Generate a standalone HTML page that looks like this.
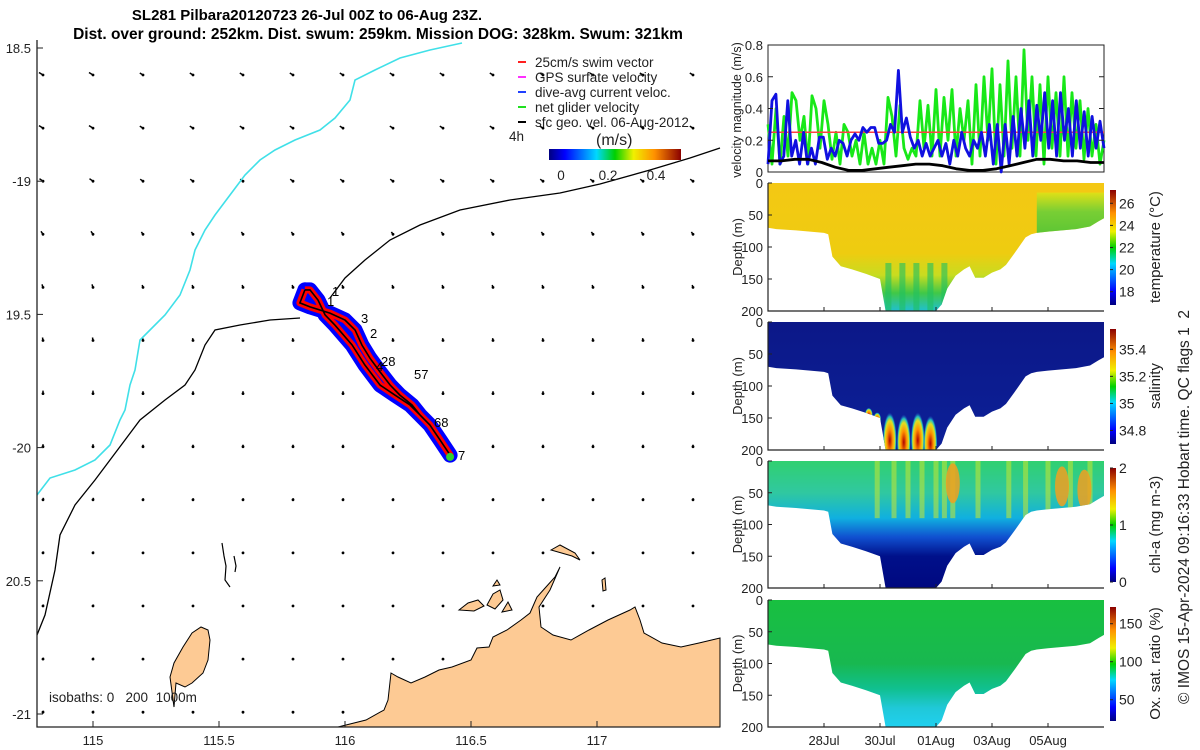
<!DOCTYPE html>
<html><head><meta charset="utf-8"><style>
html,body{margin:0;padding:0;background:#fff;width:1200px;height:750px;overflow:hidden}
svg{display:block;font-family:"Liberation Sans","DejaVu Sans",sans-serif}
.pre{white-space:pre}
</style></head><body>
<svg id="fig" width="1200" height="750" viewBox="0 0 1200 750" xmlns="http://www.w3.org/2000/svg">
<defs>
<linearGradient id="jet" x1="0" y1="1" x2="0" y2="0"><stop offset="0" stop-color="#00007f"/><stop offset="0.12" stop-color="#0000ff"/><stop offset="0.36" stop-color="#00d8ff"/><stop offset="0.5" stop-color="#00d000"/><stop offset="0.64" stop-color="#f0f000"/><stop offset="0.8" stop-color="#ff9000"/><stop offset="1" stop-color="#8a0000"/></linearGradient>
<linearGradient id="jetH" x1="0" y1="0" x2="1" y2="0"><stop offset="0" stop-color="#00007f"/><stop offset="0.12" stop-color="#0000ff"/><stop offset="0.36" stop-color="#00d8ff"/><stop offset="0.5" stop-color="#00d000"/><stop offset="0.64" stop-color="#f0f000"/><stop offset="0.8" stop-color="#ff9000"/><stop offset="1" stop-color="#8a0000"/></linearGradient>
<linearGradient id="gTemp" x1="0" y1="0" x2="0" y2="1"><stop offset="0" stop-color="#f4c814"/><stop offset="0.55" stop-color="#eecc10"/><stop offset="0.72" stop-color="#c8dc20"/><stop offset="0.86" stop-color="#40c848"/><stop offset="1" stop-color="#20c0d0"/></linearGradient>
<linearGradient id="gTempR" x1="0" y1="0" x2="0" y2="1"><stop offset="0" stop-color="#d8e818"/><stop offset="0.4" stop-color="#50d040"/><stop offset="1" stop-color="#20c040"/></linearGradient>
<linearGradient id="gSal" x1="0" y1="0" x2="0" y2="1"><stop offset="0" stop-color="#0c1888"/><stop offset="1" stop-color="#0c2098"/></linearGradient>
<linearGradient id="gChl" x1="0" y1="0" x2="0" y2="1"><stop offset="0" stop-color="#30d070"/><stop offset="0.25" stop-color="#30c8a0"/><stop offset="0.45" stop-color="#10b0e0"/><stop offset="0.6" stop-color="#1050d0"/><stop offset="0.75" stop-color="#00108a"/><stop offset="1" stop-color="#000880"/></linearGradient>
<linearGradient id="gOxy" x1="0" y1="0" x2="0" y2="1"><stop offset="0" stop-color="#18c040"/><stop offset="0.5" stop-color="#18b850"/><stop offset="0.7" stop-color="#10c090"/><stop offset="0.85" stop-color="#20c8d8"/><stop offset="1" stop-color="#20d0f0"/></linearGradient>
<radialGradient id="gHot"><stop offset="0" stop-color="#b00000"/><stop offset="0.4" stop-color="#ff9000"/><stop offset="0.7" stop-color="#e0e020"/><stop offset="0.85" stop-color="#20c0c0"/><stop offset="1" stop-color="#2040c0" stop-opacity="0"/></radialGradient>
</defs>
<g id="map"></g>
<g id="right"></g>
</svg>
<script>
// ---------------- data ----------------
const trackLon=[115.841,115.821,115.861,115.940,116.000,116.040,116.067,116.099,116.139,116.179,116.218,116.266,116.298,116.337,116.377,116.417,116.377,116.337,116.298,116.258,116.198,116.139,116.079,116.028,115.960,115.921,115.893,115.861,115.841];
const trackLat=[-19.408,-19.457,-19.472,-19.495,-19.521,-19.559,-19.615,-19.664,-19.716,-19.765,-19.803,-19.840,-19.878,-19.915,-19.971,-20.028,-19.971,-19.915,-19.878,-19.840,-19.803,-19.765,-19.690,-19.615,-19.540,-19.502,-19.446,-19.408,-19.408];
const lonTicks=[115,115.5,116,116.5,117];
const lonTickLabels=["115","115.5","116","116.5","117"];
const latTicks=[-18.5,-19,-19.5,-20,-20.5,-21];
const latTickLabels=["18.5","-19","19.5","-20","20.5","-21"];
const quiverU=[-4,-4,-3.5,-2,-1,-0.5,0,0,0.5,0.5,0.5,0.5,0.5];
const quiverV=[-2.5,-2.5,-2.5,-3,-3,-3,-3,-2.5,-2,-1.5,-1.5,-1.5,-1.5];

const netVel=[0.3,0.05,0.4,0.05,0.35,0.1,0.5,0.45,0.2,0.35,0.05,0.48,0.4,0.15,0.45,0.3,0.08,0.25,0.05,0.3,0.25,0.1,0.2,0.05,0.25,0.05,0.15,0.05,0.2,0.05,0.47,0.35,0.1,0.42,0.15,0.08,0.15,0.1,0.45,0.15,0.42,0.1,0.52,0.1,0.47,0.2,0.52,0.1,0.4,0.2,0.45,0.05,0.55,0.1,0.6,0.2,0.65,0.05,0.55,0.1,0.7,0.15,0.6,0.1,0.77,0.2,0.6,0.1,0.55,0.05,0.6,0.15,0.5,0.1,0.6,0.1,0.5,0.15,0.45,0.08,0.4,0.1,0.3,0.05,0.2];
const dacVel=[0.05,0.45,0.49,0.05,0.1,0.45,0.1,0.2,0.05,0.25,0.05,0.15,0.05,0.22,0.22,0.08,0.15,0.1,0.2,0.18,0.1,0.2,0.24,0.2,0.28,0.25,0.28,0.28,0.18,0.18,0.2,0.3,0.25,0.64,0.25,0.34,0.22,0.15,0.2,0.1,0.18,0.1,0.15,0.2,0.1,0.18,0.05,0.2,0.1,0.25,0.15,0.1,0.2,0.15,0.25,0.1,0.3,0.05,0.3,0.0,0.3,0.05,0.35,0.1,0.4,0.15,0.45,0.1,0.42,0.2,0.5,0.15,0.45,0.1,0.5,0.2,0.4,0.1,0.45,0.15,0.38,0.1,0.35,0.15,0.32,0.15];
const geoVel=[0.07,0.07,0.08,0.08,0.06,0.03,0.01,0.01,0.02,0.03,0.04,0.05,0.05,0.04,0.02,0.01,0.01,0.02,0.04,0.06,0.08,0.08,0.07,0.07,0.06,0.06];
const swimVel=[0.25,0.25];
const velTicks=[0,0.2,0.4,0.6,0.8];
const velTickLabels=["0","0.2","0.4","0.6","0.8"];
const dateTicks=[2,4,6,8,10];
const dateTickLabels=["28Jul","30Jul","01Aug","03Aug","05Aug"];
const depthTicks=[0,50,100,150,200];
const profDays=[0,0.3,1,1.5,2,2.15,2.3,2.6,3,3.5,4,4.1,4.2,4.5,5,5.5,6,6.2,6.4,6.7,7,7.2,7.4,7.7,8,8.3,8.5,8.8,9.2,9.4,9.6,10,10.5,11,11.5,11.8,12];
const profDepth=[70,72,74,76,78,80,115,130,135,142,150,175,200,200,200,200,200,190,165,145,135,130,148,148,140,135,128,110,85,80,78,76,74,72,68,60,55];
const salHotDays=[4.35,4.85,5.35,5.8,3.6,3.9];
const salHotDepth=[185,188,185,190,145,152];
const chlStripeDays=[3.9,4.5,5.0,5.5,6.0,6.3,6.6,7.5,8.6,9.2,10.0,10.8,11.5];
const chlHotDays=[6.6,10.5,11.3];
const chlHotDepth=[35,40,45];
const tempLabels=[["26",26],["24",24],["22",22],["20",20],["18",18]];
const salLabels=[["35.4",35.4],["35.2",35.2],["35",35],["34.8",34.8]];
const chlLabels=[["2",2],["1",1],["0",0]];
const oxyLabels=[["150",150],["100",100],["50",50]];

// ---------------- helpers ----------------
const NS="http://www.w3.org/2000/svg";
function mk(parent,tag,attrs,text){const e=document.createElementNS(NS,tag);for(const k in attrs)e.setAttribute(k,attrs[k]);if(text!==undefined)e.textContent=text;parent.appendChild(e);return e;}
const mapG=document.getElementById('map');
const rG=document.getElementById('right');
const lonX=lon=>93+(lon-115)*252;
const latY=lat=>48+(-lat-18.5)*266.4;
const ML=37,MR=720,MT=40,MB=727;

// ---------------- title ----------------
let t=mk(mapG,'text',{x:307,y:20,'text-anchor':'middle','font-size':15,'font-weight':'bold'},'SL281 Pilbara20120723 26-Jul 00Z to 06-Aug 23Z.');

t=mk(mapG,'text',{x:378,y:39,'text-anchor':'middle','font-size':15.5,'font-weight':'bold'},'Dist. over ground: 252km. Dist. swum: 259km. Mission DOG: 328km. Swum: 321km');


// quiver grid
const qg=mk(mapG,'g',{});

for(let r=0;r<13;r++){for(let c=0;c<14;c++){
  const x=43+c*50,y=75+r*53.1;
  const ln=mk(qg,'line',{x1:x,y1:y,x2:x+quiverU[r]*(c<2?1:0.8),y2:y+quiverV[r]*(c<2?1:0.8),stroke:'#000','stroke-width':1.5});
  
  const d=mk(qg,'circle',{cx:x,cy:y,r:1.4,fill:'#000'});
  
}}

// isobaths
let p=mk(mapG,'polyline',{fill:'none',stroke:'#40e0e8','stroke-width':1.6,points:'37,495 50,478 75,470 95,460 110,445 120,420 125,410 130,385 135,370 140,340 150,330 165,315 180,295 190,270 195,250 205,230 215,215 230,195 245,175 260,160 275,150 295,140 320,130 335,118 350,100 355,80 375,70 400,58 430,50 462,43'});

p=mk(mapG,'polyline',{fill:'none',stroke:'#000','stroke-width':1.3,points:'37,635 45,615 55,570 60,535 75,505 95,480 110,460 125,440 140,420 165,400 185,385 195,370 205,345 215,330 240,325 270,320 300,318'});

p=mk(mapG,'polyline',{fill:'none',stroke:'#000','stroke-width':1.3,points:'330,298 345,278 365,260 390,240 420,225 460,210 510,200 560,193 600,184 650,170 690,158 720,148'});


// land
p=mk(mapG,'polygon',{fill:'#fdca94',stroke:'#000','stroke-width':1,points:'338,727 366,720 384,710 388,700 391,673 398,677 411,683 425,677 439,670 452,667 471,660 477,648 489,647 493,637 507,630 521,620 530,613 537,597 546,587 555,577 560,567 550,590 539,607 541,627 553,635 571,640 589,630 608,620 630,610 635,607 640,620 644,633 662,643 681,647 699,643 720,638 720,727'});

p=mk(mapG,'polygon',{fill:'#fdca94',stroke:'#000','stroke-width':1,points:'201,627 208,630 210,640 208,660 203,673 192,683 185,687 176,683 174,707 170,677 174,663 183,647 192,633'});

[['459,610 468,603 478,600 484,606 474,611'],['487,605 493,594 500,590 503,600 495,609'],['502,612 508,602 512,610'],['493,586 497,580 500,585'],['551,550 560,545 575,553 580,560 572,556'],['602,580 605,578 606,590 603,591']].forEach(a=>{const q=mk(mapG,'polygon',{fill:'#fdca94',stroke:'#000','stroke-width':1,points:a[0]});});
p=mk(mapG,'polyline',{fill:'none',stroke:'#000','stroke-width':1.2,points:'222,543 224,556 226,566 225,580 230,587'});

p=mk(mapG,'polyline',{fill:'none',stroke:'#000','stroke-width':1.2,points:'234,556 236,566 235,572'});


// track
const tp=trackLon.map((l,i)=>lonX(l).toFixed(1)+','+latY(trackLat[i]).toFixed(1)).join(' ');
p=mk(mapG,'polyline',{fill:'none',stroke:'#0000ff','stroke-width':15,'stroke-linejoin':'round','stroke-linecap':'round',points:tp});

p=mk(mapG,'polyline',{fill:'none',stroke:'#ff0000','stroke-width':7,'stroke-linejoin':'round',points:tp});

p=mk(mapG,'polyline',{fill:'none',stroke:'#000','stroke-width':1.6,points:tp});

p=mk(mapG,'circle',{cx:lonX(116.417),cy:latY(-20.035),r:4,fill:'#30d030'});

[['1',332,296],['1',327,306],['3',361,323],['2',370,338],['28',381,366],['4',376,371],['57',414,379],['68',434,427],['7',458,460]].forEach(a=>{const q=mk(mapG,'text',{x:a[1],y:a[2],'font-size':13},a[0]);});

// axes frame
p=mk(mapG,'polyline',{fill:'none',stroke:'#222','stroke-width':1.3,points:`${ML},${MT} ${ML},${MB} ${MR},${MB}`});

lonTicks.forEach((v,i)=>{const x=lonX(v);const a=mk(mapG,'line',{x1:x,y1:MB,x2:x,y2:MB-6,stroke:'#222'});
 const b=mk(mapG,'text',{x:x,y:745,'text-anchor':'middle','font-size':13,fill:'#222'},lonTickLabels[i]);});
latTicks.forEach((v,i)=>{const y=latY(v);const a=mk(mapG,'line',{x1:ML,y1:y,x2:ML+6,y2:y,stroke:'#222'});
 const b=mk(mapG,'text',{x:31,y:y+5,'text-anchor':'end','font-size':13,fill:'#222'},latTickLabels[i]);});
t=mk(mapG,'text',{x:49,y:702,'font-size':13.5,fill:'#222','class':'pre'},'isobaths: 0   200  1000m');


// legend
const leg=mk(mapG,'g',{});

[['25cm/s swim vector','#ff2020'],['GPS surfate velocity','#ff30ff'],['dive-avg current veloc.','#2040ff'],['net glider velocity','#20e020'],['sfc geo. vel. 06-Aug-2012','#000']].forEach((e,i)=>{const y=62+i*15;
 const a=mk(leg,'line',{x1:518,y1:y,x2:526,y2:y,stroke:e[1],'stroke-width':2});
 const b=mk(leg,'text',{x:535,y:y+5,'font-size':13.5,fill:'#222'},e[0]);});
t=mk(mapG,'text',{x:509,y:141,'font-size':13.5,fill:'#222'},'4h');
t=mk(mapG,'text',{x:596,y:145,'font-size':16,fill:'#222'},'(m/s)');
p=mk(mapG,'rect',{x:549,y:149,width:132,height:11,fill:'url(#jetH)'});
[['0',561],['0.2',608],['0.4',656]].forEach(a=>{const b=mk(mapG,'text',{x:a[1],y:180,'text-anchor':'middle','font-size':13.5,fill:'#222'},a[0]);});

// ---------------- right panels ----------------
const PL=768,PR=1104;
const dayX=d=>PL+d*(PR-PL)/12;
const vT=45,vB=172;
const vY=v=>vB-v*(vB-vT)/0.8;
p=mk(rG,'rect',{x:PL,y:vT,width:PR-PL,height:vB-vT,fill:'none',stroke:'#222'});
function series(arr,color,w,name){const pts=arr.map((v,i)=>dayX(i*12/(arr.length-1)).toFixed(1)+','+vY(v).toFixed(1)).join(' ');const q=mk(rG,'polyline',{fill:'none',stroke:color,'stroke-width':w,points:pts,'stroke-linejoin':'round'});}
series(netVel,'#18e818',2.8,'net-glider-velocity-line');
series(swimVel,'#ff4040',1.5,'swim-velocity-line');
series(dacVel,'#1010e0',2.8,'dive-avg-current-line');
series(geoVel,'#000',2.8,'geostrophic-velocity-line');
velTicks.forEach((v,i)=>{const y=vY(v);const a=mk(rG,'line',{x1:PL,y1:y,x2:PL+5,y2:y,stroke:'#222'});
 const a2=mk(rG,'line',{x1:PR,y1:y,x2:PR-5,y2:y,stroke:'#222'});
 const b=mk(rG,'text',{x:763,y:y+5,'text-anchor':'end','font-size':13,fill:'#222'},velTickLabels[i]);});
t=mk(rG,'text',{x:0,y:0,'text-anchor':'middle','font-size':12.5,fill:'#222',transform:'translate(741,110) rotate(-90)'},'velocity magnitude (m/s)');

function section(top,bot,grad,name,cbLabels,cmin,cmax,title,titleX,extra){
 const dY=d=>top+d*(bot-top)/200;
 const g=mk(rG,'g',{});
 const cid='clip-'+name;const cp=mk(g,'clipPath',{id:cid});
 const pts=[dayX(0)+','+dY(0)].concat(profDays.map((d,i)=>dayX(d).toFixed(1)+','+dY(profDepth[i]).toFixed(1))).concat([dayX(12)+','+dY(0)]).join(' ');
 mk(cp,'polygon',{points:pts});
 const inner=mk(g,'g',{'clip-path':'url(#'+cid+')'});
 const f=mk(inner,'rect',{x:PL,y:top,width:PR-PL,height:bot-top,fill:grad});
 if(extra)extra(inner,dY);
 const ax=mk(g,'polyline',{fill:'none',stroke:'#222','stroke-width':1.2,points:`${PL},${top} ${PL},${bot} ${PR},${bot}`});
 depthTicks.forEach(v=>{const y=dY(v);const a=mk(g,'line',{x1:PL,y1:y,x2:PL+4,y2:y,stroke:'#222'});
  const b=mk(g,'text',{x:763,y:y+5,'text-anchor':'end','font-size':13,fill:'#222'},String(v));});
 dateTicks.forEach(d=>{const x=dayX(d);const a=mk(g,'line',{x1:x,y1:bot,x2:x,y2:bot-4,stroke:'#222'});});
 const yl=mk(g,'text',{x:0,y:0,'text-anchor':'middle','font-size':13,fill:'#222',transform:`translate(742,${(top+bot)/2}) rotate(-90)`},'Depth (m)');
 const cT=top+7,cB=bot-6;
 const cb=mk(g,'rect',{x:1110,y:cT,width:6,height:cB-cT,fill:'url(#jet)'});
 cbLabels.forEach(l=>{const y=cB-(l[1]-cmin)/(cmax-cmin)*(cB-cT);const a=mk(g,'line',{x1:1110,y1:y,x2:1113,y2:y,stroke:'#222'});
  const b=mk(g,'text',{x:1119,y:y+5,'font-size':14,fill:'#222'},l[0]);});
 const ct=mk(g,'text',{x:0,y:0,'text-anchor':'middle','font-size':15,fill:'#222',transform:`translate(${titleX},${(top+bot)/2}) rotate(-90)`},title);
 return dY;
}
section(183,311,'url(#gTemp)','temperature',tempLabels,16.8,27.2,'temperature (°C)',1160,(g,dY)=>{
 const r=mk(g,'rect',{x:dayX(9.6),y:dY(15),width:dayX(12)-dayX(9.6),height:dY(90)-dY(15),fill:'url(#gTempR)',opacity:0.75});
 [4.3,4.8,5.3,5.8,6.3].forEach(d=>{const s=mk(g,'rect',{x:dayX(d)-3,y:dY(125),width:6,height:dY(200)-dY(125),fill:'#20c060',opacity:0.6});});
});
section(322,450,'url(#gSal)','salinity',salLabels,34.7,35.55,'salinity',1160,(g,dY)=>{
 salHotDays.forEach((d,i)=>{const e=mk(g,'ellipse',{cx:dayX(d),cy:dY(salHotDepth[i]),rx:i<4?7:4,ry:i<4?28:7,fill:'url(#gHot)'});});
});
section(461,588,'url(#gChl)','chl-a',chlLabels,0,2,'chl-a (mg m-3)',1160,(g,dY)=>{
 chlStripeDays.forEach(d=>{const s=mk(g,'rect',{x:dayX(d)-2.5,y:dY(0),width:5,height:dY(90)-dY(0),fill:'#c8e830',opacity:0.55});});
 chlHotDays.forEach((d,i)=>{const e=mk(g,'ellipse',{cx:dayX(d),cy:dY(chlHotDepth[i]),rx:7,ry:20,fill:'#f0a020',opacity:0.85});});
});
section(600,727,'url(#gOxy)','oxygen',oxyLabels,22,172,'Ox. sat. ratio (%)',1160);
dateTicks.forEach((d,i)=>{const b=mk(rG,'text',{x:dayX(d),y:745,'text-anchor':'middle','font-size':13,fill:'#222'},dateTickLabels[i]);});
t=mk(rG,'text',{x:0,y:0,'text-anchor':'middle','font-size':15.5,fill:'#222','class':'pre',transform:'translate(1189,507) rotate(-90)'},'© IMOS 15-Apr-2024 09:16:33 Hobart time. QC flags 1  2');

</script>
</body></html>
